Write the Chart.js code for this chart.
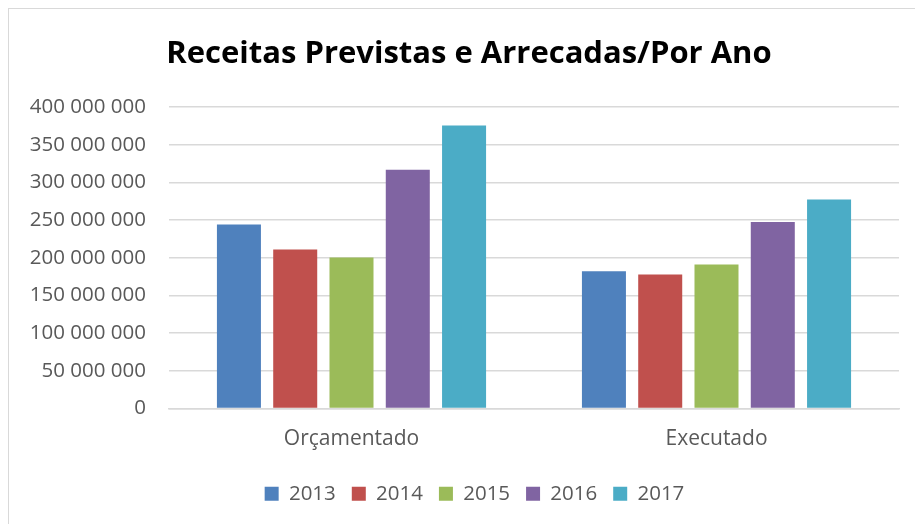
<!DOCTYPE html>
<html lang="pt">
<head>
<meta charset="utf-8">
<title>Receitas Previstas e Arrecadas/Por Ano</title>
<script src="https://cdn.jsdelivr.net/npm/chart.js@4.4.1/dist/chart.umd.min.js"></script>
<style>
  html, body {
    margin: 0;
    padding: 0;
    background: #ffffff;
    overflow: hidden;
  }
  #frame {
    position: absolute;
    left: 8px;
    top: 8px;
    width: 1000px;
    height: 1000px;
    border: 1px solid #d9d9d9;
  }
  #wrap {
    position: absolute;
    left: 0;
    top: 0;
    width: 915px;
    height: 528px;
  }
</style>
</head>
<body>
<div id="frame"></div>
<div id="wrap"><canvas id="chart" width="915" height="528"></canvas></div>
<script>
"use strict";

const chartTitle = "Receitas Previstas e Arrecadas/Por Ano";
const categories = ["Orçamentado", "Executado"];
const years = ["2013", "2014", "2015", "2016", "2017"];

// valores em reais (Orçamentado, Executado)
const values2013 = [244400000, 182200000];
const values2014 = [211000000, 177800000];
const values2015 = [200400000, 191100000];
const values2016 = [316900000, 247600000];
const values2017 = [375600000, 277300000];

const yearColors = ["#4f81bd", "#c0504d", "#9bbb59", "#8064a2", "#4bacc6"];

const axisMax = 400000000;
const axisStep = 50000000;

const TEXT_COLOR = "#595959";
const GRID_COLOR = "#d9d9d9";
const FONT_FAMILY = '"Open Sans", "DejaVu Sans", sans-serif';

function formatThousands(value) {
  return String(Math.round(value)).replace(/\B(?=(\d{3})+(?!\d))/g, " ");
}

const seriesValues = [values2013, values2014, values2015, values2016, values2017];

const datasets = years.map((year, index) => ({
  label: year,
  data: seriesValues[index],
  backgroundColor: yearColors[index],
  borderWidth: 0,
  categoryPercentage: 0.771,
  barPercentage: 0.782,
}));

// The title and legend sit centred on the whole frame, not on the
// axis + plot box, so nudge them right after layout.
const centreOnFrame = {
  id: "centreOnFrame",
  afterLayout(chart) {
    const title = chart.titleBlock;
    const legend = chart.legend;
    if (title) {
      title.left += 9.5;
      title.right += 9.5;
    }
    if (legend) {
      legend.left += 15;
      legend.right += 15;
    }
  },
};

Chart.defaults.font.family = FONT_FAMILY;
Chart.defaults.color = TEXT_COLOR;

new Chart(document.getElementById("chart").getContext("2d"), {
  type: "bar",
  data: {
    labels: categories,
    datasets: datasets,
  },
  plugins: [centreOnFrame],
  options: {
    responsive: false,
    animation: false,
    layout: {
      padding: { left: 20, right: 16, top: 0, bottom: 14 },
    },
    plugins: {
      title: {
        display: true,
        text: chartTitle,
        color: "#000000",
        font: { family: FONT_FAMILY, size: 31, weight: "bold", lineHeight: 1.2 },
        padding: { top: 36, bottom: 34 },
      },
      legend: {
        position: "bottom",
        labels: {
          color: TEXT_COLOR,
          font: { size: 20.5 },
          boxWidth: 14,
          boxHeight: 14,
          padding: 16,
        },
      },
      tooltip: { enabled: false },
    },
    scales: {
      x: {
        grid: { display: false, drawTicks: false },
        border: { display: true, color: GRID_COLOR, width: 1.5 },
        ticks: {
          color: TEXT_COLOR,
          font: { size: 21 },
          padding: 18,
        },
        afterFit(scale) {
          scale.height = 59;
        },
      },
      y: {
        min: 0,
        max: axisMax,
        grid: { color: GRID_COLOR, lineWidth: 1.5, drawTicks: false },
        border: { display: false },
        ticks: {
          stepSize: axisStep,
          color: TEXT_COLOR,
          font: { size: 20.5 },
          padding: 23,
          callback: (value) => formatThousands(value),
        },
        afterFit(scale) {
          scale.width = 149;
        },
      },
    },
  },
});
</script>
</body>
</html>
